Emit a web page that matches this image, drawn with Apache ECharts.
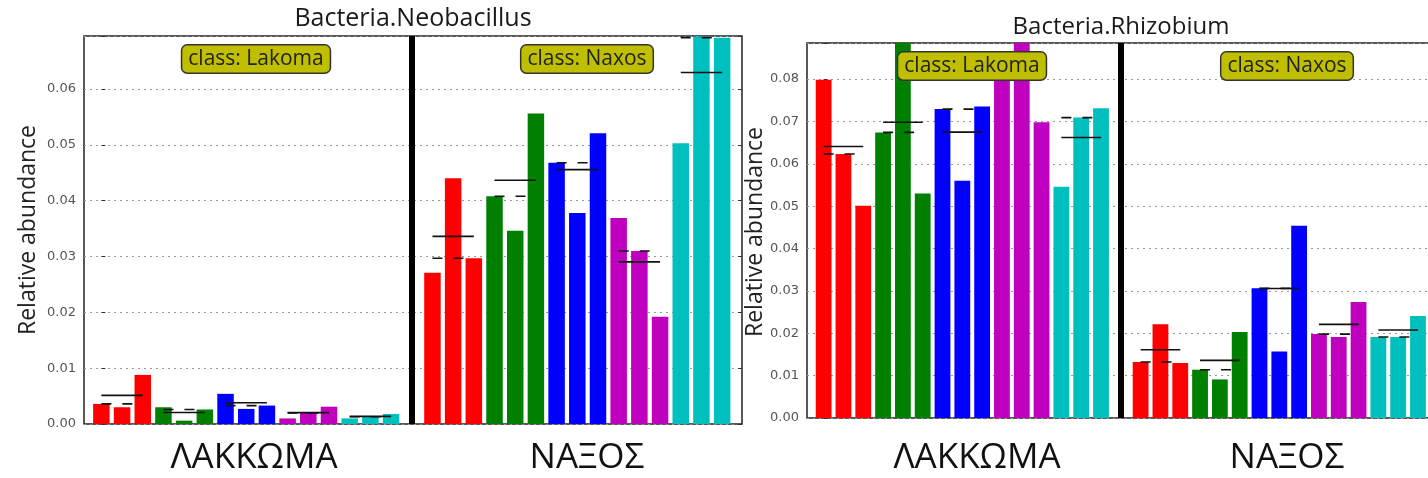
<!DOCTYPE html>
<html>
<head>
<meta charset="utf-8">
<script src="https://cdn.jsdelivr.net/npm/echarts@6/dist/echarts.min.js"></script>
<style>
  html, body { margin: 0; padding: 0; background: #fff; }
  #chart { width: 1428px; height: 478px; }
</style>
</head>
<body>
<div id="chart"></div>
<script>
// colours of the 5 sample groups (3 replicates each)
var groupColors = ['#ff0000', '#008000', '#0000ff', '#bf00bf', '#00bfbf'];

// Bacteria.Neobacillus
var neoLakoma = [0.0036, 0.0030, 0.0088, 0.0030, 0.0006, 0.0026, 0.0054, 0.0027, 0.0033, 0.0010, 0.0020, 0.0031, 0.0010, 0.0013, 0.0018];
var neoNaxos  = [0.0271, 0.0440, 0.0297, 0.0408, 0.0346, 0.0556, 0.0468, 0.0378, 0.0521, 0.0369, 0.0310, 0.0192, 0.0503, 0.0694, 0.0692];

// Bacteria.Rhizobium
var rhiLakoma = [0.0798, 0.0623, 0.0501, 0.0674, 0.0890, 0.0530, 0.0729, 0.0560, 0.0735, 0.0830, 0.0950, 0.0698, 0.0546, 0.0709, 0.0731];
var rhiNaxos  = [0.0132, 0.0221, 0.0130, 0.0114, 0.0091, 0.0203, 0.0306, 0.0157, 0.0454, 0.0198, 0.0191, 0.0274, 0.0191, 0.0191, 0.0241];

var titles = ['Bacteria.Neobacillus', 'Bacteria.Rhizobium'];
var classLabels = ['class: Lakoma', 'class: Naxos'];
var siteLabels = ['ΛΑΚΚΩΜΑ', 'ΝΑΞΟΣ'];
var yMax = [0.0695, 0.0885];

var NAXOS_OFFSET = 16;   // x position of first Naxos bar, divider sits at 15

function barData(lak, nax) {
    var out = [];
    lak.forEach(function (v, i) {
        out.push({value: [i, v], itemStyle: {color: groupColors[Math.floor(i / 3)]}});
    });
    nax.forEach(function (v, i) {
        out.push({value: [NAXOS_OFFSET + i, v], itemStyle: {color: groupColors[Math.floor(i / 3)]}});
    });
    return out;
}

function median3(a) {
    var s = a.slice().sort(function (x, y) { return x - y; });
    return s[1];
}
function mean(a) {
    return a.reduce(function (s, v) { return s + v; }, 0) / a.length;
}

// one segment per group: [xStart, xEnd, y]
function statData(lak, nax, kind) {
    var out = [];
    [[lak, 0], [nax, NAXOS_OFFSET]].forEach(function (p) {
        for (var g = 0; g < 5; g++) {
            var vals = p[0].slice(g * 3, g * 3 + 3);
            var y = kind === 'mean' ? mean(vals) : median3(vals);
            out.push([p[1] + g * 3, p[1] + g * 3 + 2, y]);
        }
    });
    return out;
}

function segRenderer(dashed) {
    return function (params, api) {
        var y = api.value(2);
        var p1 = api.coord([api.value(0), y]);
        var p2 = api.coord([api.value(1), y]);
        var cs = params.coordSys;
        if (p1[1] < cs.y - 0.5) return;
        return {
            type: 'line',
            shape: {x1: p1[0], y1: p1[1], x2: p2[0], y2: p2[1]},
            style: {stroke: '#111', lineWidth: 1.6, lineDash: dashed ? [10, 11] : null}
        };
    };
}

var chart = echarts.init(document.getElementById('chart'));

var grids = [
    {left: 84, top: 36, width: 658, height: 388},
    {left: 807, top: 43, width: 630, height: 375}
];

var xAxes = [], yAxes = [], series = [];
var panels = [[neoLakoma, neoNaxos], [rhiLakoma, rhiNaxos]];
var barPx = [16.5, 15.8];

panels.forEach(function (p, k) {
    grids[k].show = true;
    grids[k].borderColor = '#222';
    grids[k].borderWidth = 1.5;
    grids[k].backgroundColor = '#fff';
    grids[k].containLabel = false;
    grids[k].outerBoundsMode = 'none';
    xAxes.push({
        gridIndex: k, type: 'value', min: -0.84, max: 30.96,
        axisLine: {show: false}, axisTick: {show: false},
        axisLabel: {show: false}, splitLine: {show: false}
    });
    yAxes.push({
        gridIndex: k, type: 'value', min: 0, max: yMax[k], interval: 0.01,
        axisLine: {show: false},
        axisTick: {show: true, inside: true, length: 4, lineStyle: {color: '#333'}},
        axisLabel: {
            color: '#555', fontFamily: 'DejaVu Sans', fontSize: 13, margin: 8,
            formatter: function (v) {
                if (Math.abs(v / 0.01 - Math.round(v / 0.01)) > 1e-6) return '';
                return v.toFixed(2);
            }
        },
        splitLine: {show: true, lineStyle: {color: '#999', width: 1, type: [2, 4]}}
    });
    yAxes.push({
        gridIndex: k, type: 'value', position: 'right', min: 0, max: yMax[k], interval: 0.01,
        axisLine: {show: false},
        axisTick: {show: true, inside: true, length: 4, lineStyle: {color: '#333'}},
        axisLabel: {show: false}, splitLine: {show: false}
    });
    series.push({
        type: 'bar', xAxisIndex: k, yAxisIndex: k * 2,
        barWidth: barPx[k], data: barData(p[0], p[1]),
        silent: true, animation: false,
        markLine: {
            silent: true, symbol: 'none', animation: false,
            label: {show: false},
            lineStyle: {color: '#000', width: 6, type: 'solid'},
            data: [{xAxis: 15}]
        }
    });
    series.push({
        type: 'custom', xAxisIndex: k, yAxisIndex: k * 2, z: 5,
        encode: {x: [0, 1], y: 2}, silent: true, animation: false,
        renderItem: segRenderer(false), data: statData(p[0], p[1], 'mean')
    });
    series.push({
        type: 'custom', xAxisIndex: k, yAxisIndex: k * 2, z: 5,
        encode: {x: [0, 1], y: 2}, silent: true, animation: false,
        renderItem: segRenderer(true), data: statData(p[0], p[1], 'median')
    });
});

function txt(s, x, y, size, extra) {
    var st = {text: s, x: x, y: y, fill: '#1a1a1a', font: size + 'px "Open Sans", sans-serif',
              align: 'center', verticalAlign: 'middle', textAlign: 'center', textVerticalAlign: 'middle'};
    for (var k in extra) st[k] = extra[k];
    return {type: 'text', z: 100, silent: true, style: st};
}
function box(s, x, y) {
    return txt(s, x, y, 21, {
        backgroundColor: '#bfbf00', borderColor: '#333', borderWidth: 1.5,
        borderRadius: 5, padding: [3, 6, 3, 6], fill: '#222'
    });
}

var graphics = [
    txt(titles[0], 413, 19, 25),
    txt(titles[1], 1121, 27, 24),
    box(classLabels[0], 256, 59),
    box(classLabels[1], 587, 59),
    box(classLabels[0], 972, 66),
    box(classLabels[1], 1287, 66),
    txt(siteLabels[0], 254, 458, 35, {fill: '#111'}),
    txt(siteLabels[1], 587, 458, 35, {fill: '#111'}),
    txt(siteLabels[0], 977, 458, 35, {fill: '#111'}),
    txt(siteLabels[1], 1287, 458, 35, {fill: '#111'})
];
var yl1 = txt('Relative abundance', 0, 0, 23, {fill: '#222'});
yl1.x = 28; yl1.y = 230; yl1.rotation = Math.PI / 2;
var yl2 = txt('Relative abundance', 0, 0, 23, {fill: '#222'});
yl2.x = 755; yl2.y = 232; yl2.rotation = Math.PI / 2;
graphics.push(yl1, yl2);

chart.setOption({
    animation: false,
    backgroundColor: '#fff',
    grid: grids,
    xAxis: xAxes,
    yAxis: yAxes,
    series: series,
    graphic: graphics
});
</script>
</body>
</html>
